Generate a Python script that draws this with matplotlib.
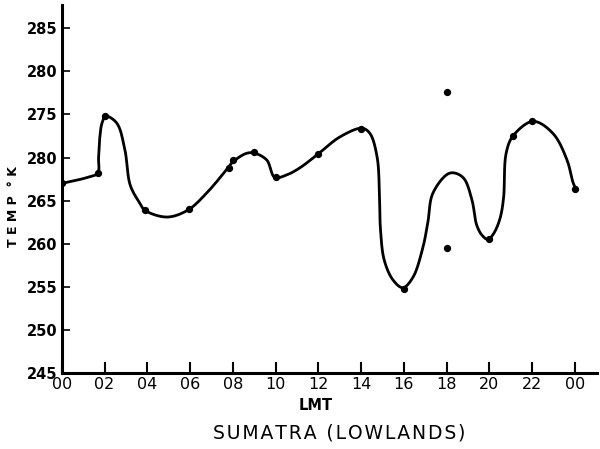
import numpy as np
import matplotlib
matplotlib.use("Agg")
import matplotlib.pyplot as plt

# Observed points (hour LMT, temperature K)
pts_x = [0.0, 1.7, 2.0, 3.9, 5.95, 7.8, 8.0, 9.0, 10.0, 12.0, 14.0, 16.0, 18.0, 18.0, 20.0, 21.1, 22.0, 24.0]
pts_y = [267.0, 268.2, 274.8, 263.9, 264.0, 268.8, 269.7, 270.6, 267.8, 270.4, 273.3, 254.8, 277.6, 259.5, 260.5, 272.5, 274.2, 266.4]

# Hand-drawn curve, knots
curve_x = [0.0, 1.2, 1.68, 1.72, 1.78, 1.88, 2.05, 2.57, 2.95, 3.2, 3.65, 3.88, 4.91, 5.89, 6.78,
           7.77, 8.0, 8.65, 9.03, 9.59, 9.96, 10.53, 11.13, 11.98, 13.01, 14.04, 14.41, 14.75,
           14.86, 14.9, 15.08, 15.49, 15.95, 16.42, 16.89, 17.12, 17.36, 18.15, 18.76, 19.18,
           19.4, 19.65, 19.93, 20.2, 20.49, 20.66, 20.78, 21.1, 22.04, 22.97, 23.63, 23.91, 24.05]
curve_y = [267.0, 267.7, 268.2, 270.0, 272.4, 274.0, 274.8, 274.0, 270.9, 266.8, 264.7, 263.9, 263.1, 263.9, 265.9,
           268.8, 269.5, 270.5, 270.5, 269.7, 267.7, 268.0, 268.8, 270.4, 272.4, 273.4, 272.8, 270.0,
           265.1, 261.8, 258.1, 255.8, 254.9, 256.1, 259.6, 262.5, 265.9, 268.2, 267.7, 265.1,
           262.2, 261.0, 260.5, 261.2, 262.9, 265.3, 270.5, 272.5, 274.2, 272.8, 269.7, 267.1, 266.3]

x_ticks = [0, 2, 4, 6, 8, 10, 12, 14, 16, 18, 20, 22, 24]
x_labels = ["00", "02", "04", "06", "08", "10", "12", "14", "16", "18", "20", "22", "00"]
y_ticks = [245, 250, 255, 260, 265, 270, 275, 280, 285]
y_labels = ["245", "250", "255", "260", "265", "280", "275", "280", "285"]


def centripetal_cr(xs, ys, sx=21.375, sy=8.625, n=16, alpha=0.5):
    # smooth line through the knots, parameterised in display-like units
    P = np.column_stack([np.asarray(xs) * sx, np.asarray(ys) * sy]).astype(float)
    P = np.vstack([P[0] * 2 - P[1], P, P[-1] * 2 - P[-2]])
    out = []
    for i in range(1, len(P) - 2):
        p0, p1, p2, p3 = P[i - 1], P[i], P[i + 1], P[i + 2]
        t0 = 0.0
        t1 = t0 + max(np.linalg.norm(p1 - p0), 1e-6) ** alpha
        t2 = t1 + max(np.linalg.norm(p2 - p1), 1e-6) ** alpha
        t3 = t2 + max(np.linalg.norm(p3 - p2), 1e-6) ** alpha
        t = np.linspace(t1, t2, n, endpoint=False)[:, None]
        a1 = (t1 - t) / (t1 - t0) * p0 + (t - t0) / (t1 - t0) * p1
        a2 = (t2 - t) / (t2 - t1) * p1 + (t - t1) / (t2 - t1) * p2
        a3 = (t3 - t) / (t3 - t2) * p2 + (t - t2) / (t3 - t2) * p3
        b1 = (t2 - t) / (t2 - t0) * a1 + (t - t0) / (t2 - t0) * a2
        b2 = (t3 - t) / (t3 - t1) * a2 + (t - t1) / (t3 - t1) * a3
        c = (t2 - t) / (t2 - t1) * b1 + (t - t1) / (t2 - t1) * b2
        out.append(c)
    out.append(P[-2][None, :])
    out = np.vstack(out)
    return out[:, 0] / sx, out[:, 1] / sy


fig = plt.figure(figsize=(6.0, 4.49), dpi=100)
ax = fig.add_axes([0.103, 0.169, 0.892, 0.82])

cx, cy = centripetal_cr(curve_x, curve_y)
ax.plot(cx, cy, color="black", lw=2.0, solid_capstyle="round", solid_joinstyle="round", zorder=2)
ax.scatter(pts_x, pts_y, s=18, color="black", zorder=3)

ax.set_xlim(0, 25.03)
ax.set_ylim(245, 287.7)
ax.spines["top"].set_visible(False)
ax.spines["right"].set_visible(False)
ax.spines["left"].set_linewidth(2.2)
ax.spines["bottom"].set_linewidth(2.2)

ax.set_xticks(x_ticks)
ax.set_xticklabels(x_labels, fontsize=11.5)
ax.set_yticks(y_ticks)
ax.set_yticklabels(y_labels, fontsize=10.5, fontweight="bold")
ax.tick_params(axis="x", direction="in", length=8, width=1.5, pad=3)
ax.tick_params(axis="y", direction="in", length=6, width=1.2, pad=3)

fig.text(316 / 600, 1 - 405 / 449, "LMT", ha="center", va="center",
         fontsize=10.5, fontweight="bold")
fig.text(14 / 600, 1 - 207 / 449, "T E M P  ° K", ha="center", va="center",
         rotation=90, fontsize=9, fontweight="bold")

title = "\u200a".join("SUMATRA (LOWLANDS)")
fig.text(339 / 600, 1 - 433 / 449, title, ha="center", va="center", fontsize=13.5)

fig.savefig("out.png", dpi=100)
